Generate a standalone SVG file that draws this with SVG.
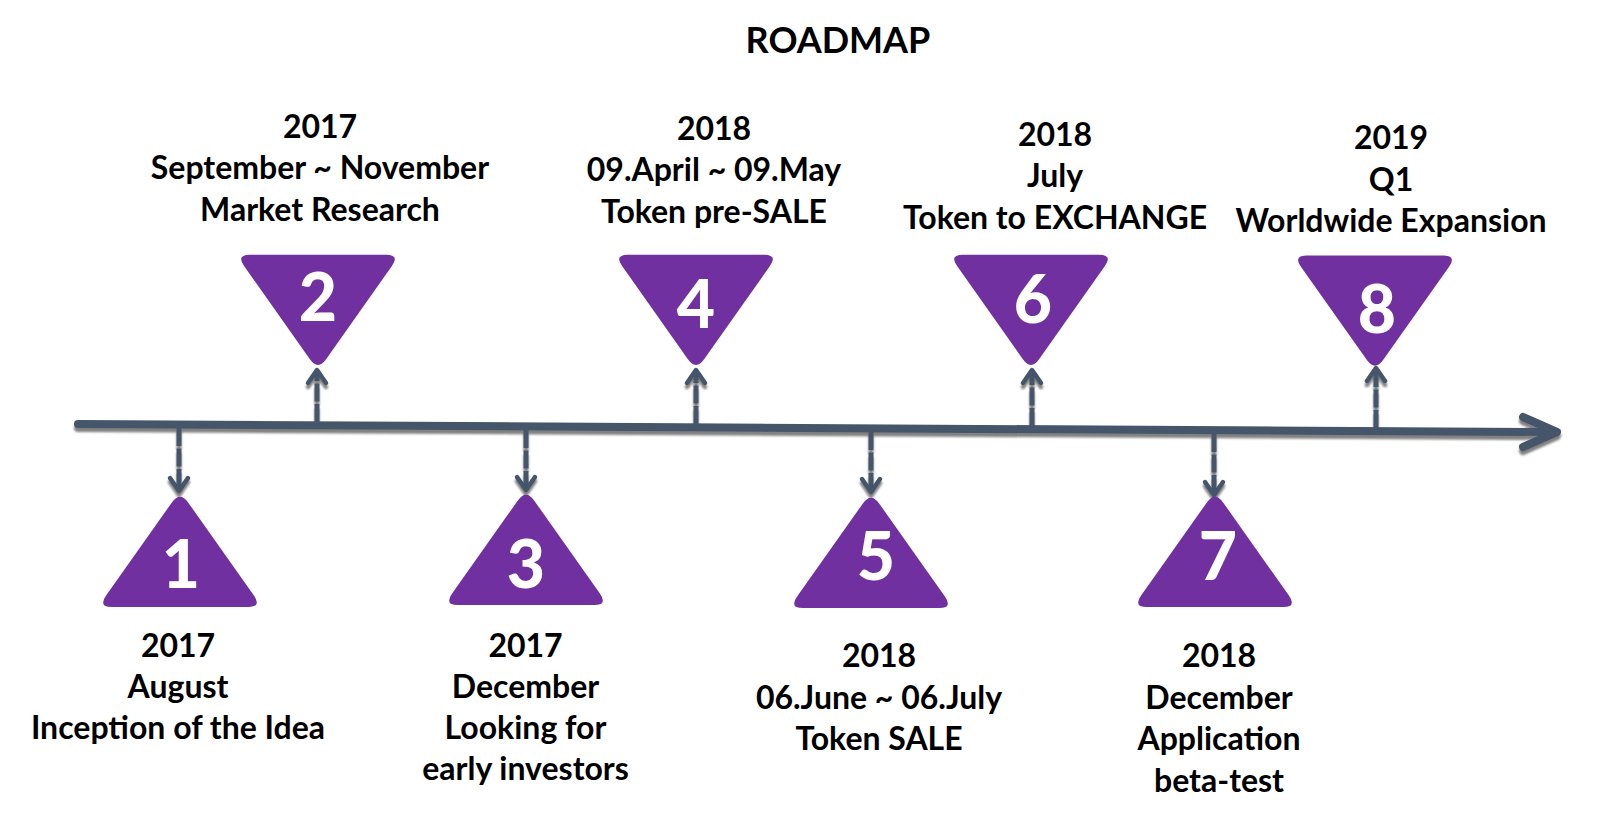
<svg xmlns="http://www.w3.org/2000/svg" xmlns:xlink="http://www.w3.org/1999/xlink" width="1600" height="822" viewBox="0 0 1600 822">
<style>
  .lbl { font-family: Lato, "Open Sans", "Liberation Sans", sans-serif; font-weight: 700; font-size: 32px; fill: #000; text-anchor: middle; }
  .title { font-family: Lato, "Open Sans", "Liberation Sans", sans-serif; font-weight: 700; font-size: 36px; fill: #000; text-anchor: middle; }
  .num { font-family: Lato, "Open Sans", "Liberation Sans", sans-serif; font-weight: 900; font-size: 66px; fill: #fff; text-anchor: middle; }
  .tri { fill: #7030A0; }
  .conn { stroke: #44546A; stroke-width: 5; fill: none; stroke-dasharray: 18 2.5; marker-end: url(#arr); }
  .axis { stroke: #44546A; stroke-width: 8; fill: none; stroke-linecap: round; stroke-linejoin: round; }
</style>
<defs>
  <filter id="sh" x="-5%" y="-20%" width="110%" height="140%">
    <feDropShadow dx="0" dy="4" stdDeviation="1.3" flood-color="#7a7a7a" flood-opacity="0.95"/>
  </filter>
  <marker id="arr" markerUnits="userSpaceOnUse" viewBox="-20 -15 26 30" markerWidth="26" markerHeight="30" refX="0" refY="0" orient="auto" overflow="visible">
    <path d="M-13,-9 L0,0 L-13,9" fill="none" stroke="#44546A" stroke-width="4.5" stroke-linecap="round" stroke-linejoin="round"/>
  </marker>
  <path id="tri" d="M-8.1,11.4 Q0,0 8.1,11.4 L73.9,104.6 Q82,116 68,116 L-68,116 Q-82,116 -73.9,104.6 Z"/>
</defs>

<rect width="1600" height="822" fill="#fff"/>

<text class="title" x="838" y="53">ROADMAP</text>

<g id="connectors" filter="url(#sh)">
  <line class="axis" x1="78" y1="424" x2="1553" y2="432"/>
  <polyline class="axis" points="1523,417 1557,432 1523,447"/>
  <line class="conn" x1="179" y1="428" x2="179" y2="491"/>
  <line class="conn" x1="317" y1="422" x2="317" y2="370"/>
  <line class="conn" x1="526" y1="430" x2="526" y2="490"/>
  <line class="conn" x1="696" y1="424" x2="696" y2="370"/>
  <line class="conn" x1="871" y1="432" x2="871" y2="492"/>
  <line class="conn" x1="1032" y1="426" x2="1032" y2="370"/>
  <line class="conn" x1="1214" y1="434" x2="1214" y2="495"/>
  <line class="conn" x1="1376" y1="428" x2="1376" y2="368"/>
</g>

<g id="node1">
  <use href="#tri" class="tri" transform="translate(180,491)"/>
  <text class="num" x="181" y="588">1</text>
  <text class="lbl" x="178" y="657">2017</text>
  <text class="lbl" x="178" y="698">August</text>
  <text class="lbl" x="178" y="739">Inception of the Idea</text>
</g>

<g id="node2">
  <use href="#tri" class="tri" transform="translate(318,370.7) scale(1,-1)"/>
  <text class="num" x="318" y="321">2</text>
  <text class="lbl" x="320" y="137.5">2017</text>
  <text class="lbl" x="320" y="179">September ~ November</text>
  <text class="lbl" x="320" y="220.5">Market Research</text>
</g>

<g id="node3">
  <use href="#tri" class="tri" transform="translate(526,489)"/>
  <text class="num" x="526" y="588">3</text>
  <text class="lbl" x="525.5" y="657">2017</text>
  <text class="lbl" x="525.5" y="698">December</text>
  <text class="lbl" x="525.5" y="739">Looking for</text>
  <text class="lbl" x="525.5" y="780">early investors</text>
</g>

<g id="node4">
  <use href="#tri" class="tri" transform="translate(696,370.7) scale(1,-1)"/>
  <text class="num" x="696" y="328">4</text>
  <text class="lbl" x="714" y="139.5">2018</text>
  <text class="lbl" x="714" y="181">09.April ~ 09.May</text>
  <text class="lbl" x="714" y="222.5">Token pre-SALE</text>
</g>

<g id="node5">
  <use href="#tri" class="tri" transform="translate(871,492)"/>
  <text class="num" x="876" y="580">5</text>
  <text class="lbl" x="879" y="667">2018</text>
  <text class="lbl" x="879" y="708.5">06.June ~ 06.July</text>
  <text class="lbl" x="879" y="750">Token SALE</text>
</g>

<g id="node6">
  <use href="#tri" class="tri" transform="translate(1031,370.7) scale(1,-1)"/>
  <text class="num" x="1033" y="323">6</text>
  <text class="lbl" x="1055" y="145.5">2018</text>
  <text class="lbl" x="1055" y="187">July</text>
  <text class="lbl" x="1055" y="228.5">Token to EXCHANGE</text>
</g>

<g id="node7">
  <use href="#tri" class="tri" transform="translate(1215,491)"/>
  <text class="num" x="1218" y="580">7</text>
  <text class="lbl" x="1219" y="667">2018</text>
  <text class="lbl" x="1219" y="708.5">December</text>
  <text class="lbl" x="1219" y="750">Application</text>
  <text class="lbl" x="1219" y="791.5">beta-test</text>
</g>

<g id="node8">
  <use href="#tri" class="tri" transform="translate(1375,371.5) scale(1,-1)"/>
  <text class="num" x="1377" y="333">8</text>
  <text class="lbl" x="1391" y="149">2019</text>
  <text class="lbl" x="1391" y="190.5">Q1</text>
  <text class="lbl" x="1391" y="232">Worldwide Expansion</text>
</g>
</svg>
